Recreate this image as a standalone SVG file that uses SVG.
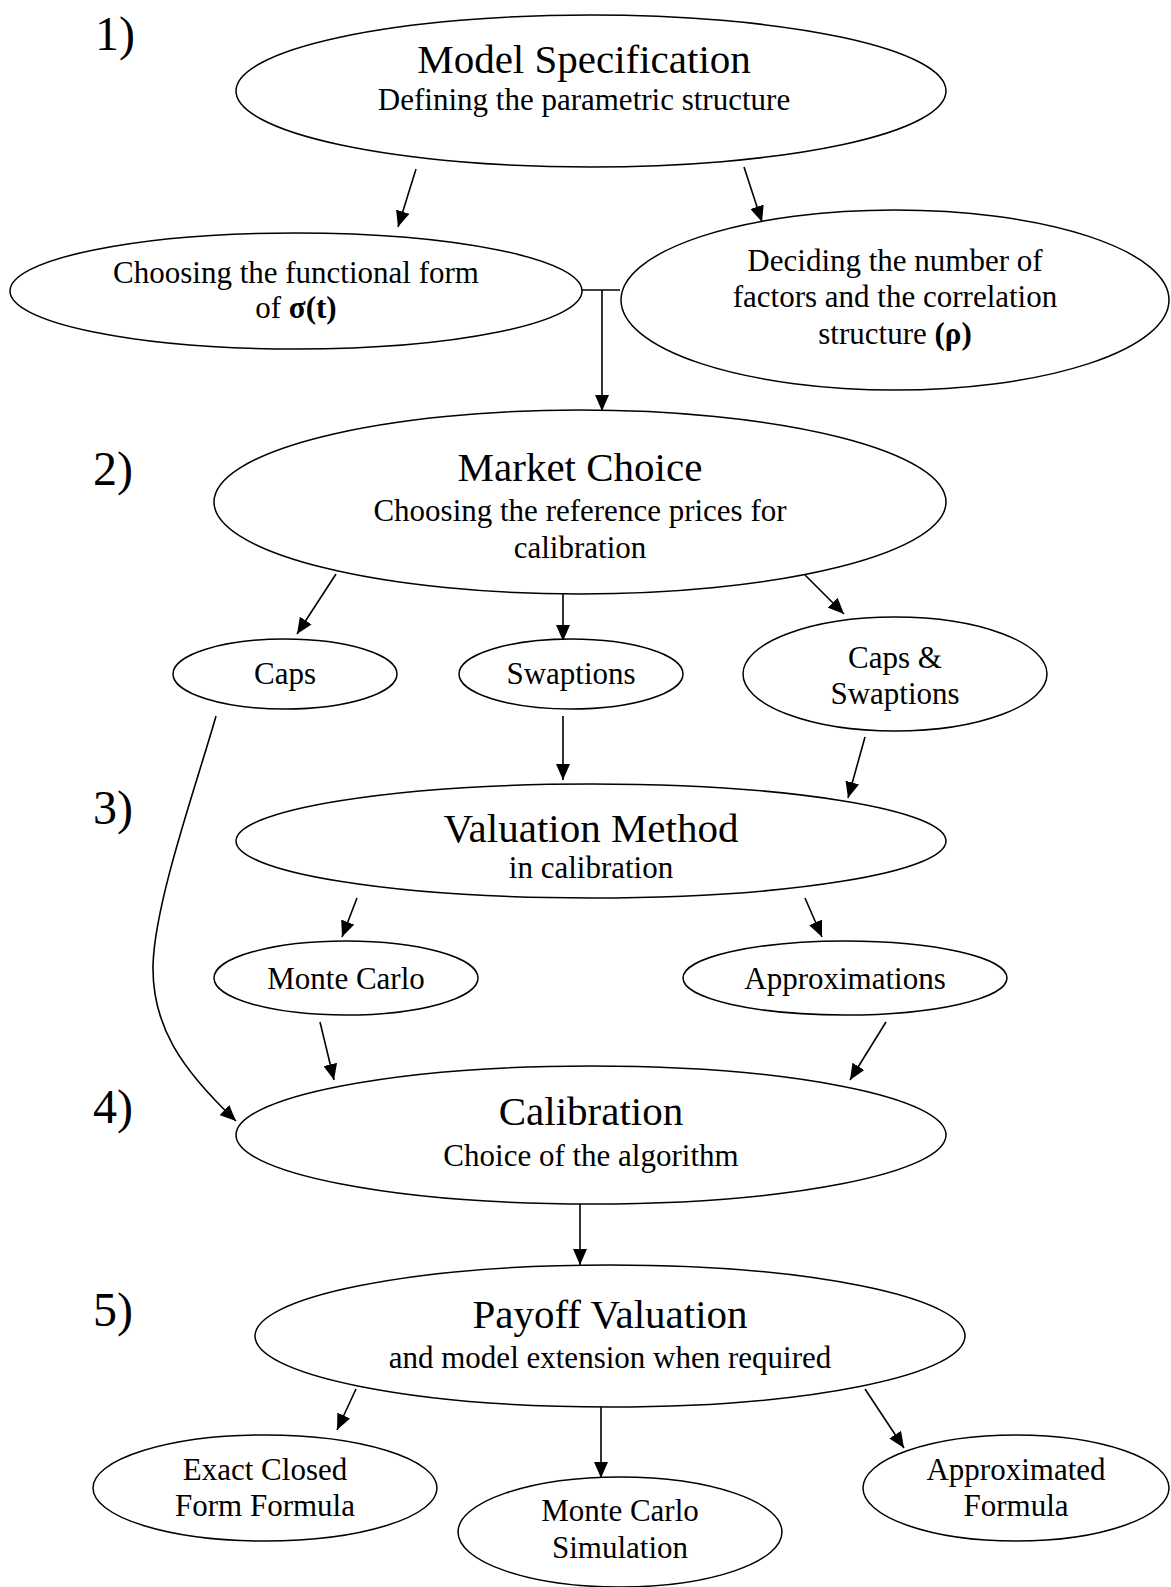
<svg xmlns="http://www.w3.org/2000/svg" width="1171" height="1587" viewBox="0 0 1171 1587">
<style>
  .n { fill: #fff; stroke: #000; stroke-width: 1.5; }
  text { font-family: "Liberation Serif", "Times New Roman", serif; fill: #000; text-anchor: middle; }
  .t { font-size: 41px; }
  .s { font-size: 31px; }
  .lab { font-size: 48px; text-anchor: start; }
  .e { fill: none; stroke: #000; stroke-width: 1.6; marker-end: url(#ah); }
  .l { fill: none; stroke: #000; stroke-width: 1.6; }
  .b { font-weight: bold; }
</style>
<defs>
  <marker id="ah" markerUnits="userSpaceOnUse" viewBox="0 0 16 14" refX="16" refY="7" markerWidth="16" markerHeight="14" orient="auto">
    <path d="M0,0 L16,7 L0,14 z" fill="#000"/>
  </marker>
</defs>
<rect width="1171" height="1587" fill="#fff"/>

<g id="step-labels">
  <text class="lab" x="95" y="50">1)</text>
  <text class="lab" x="93" y="485">2)</text>
  <text class="lab" x="93" y="824">3)</text>
  <text class="lab" x="93" y="1123">4)</text>
  <text class="lab" x="93" y="1326">5)</text>
</g>

<g id="connectors">
  <path class="e" d="M416,169 L398,227"/>
  <path class="e" d="M744,167 L762,222"/>
  <path class="l" d="M582,290 H620"/>
  <path class="e" d="M602,290 V411"/>
  <path class="e" d="M336,574 L297,634"/>
  <path class="e" d="M563,594 V641"/>
  <path class="e" d="M805,575 L844,614"/>
  <path class="e" d="M563,716 V780"/>
  <path class="e" d="M865,737 L848,798"/>
  <path class="e" d="M216,716 C198,780 155,900 153,965 C152,1025 180,1068 236,1121"/>
  <path class="e" d="M357,898 L342,937"/>
  <path class="e" d="M805,898 L822,937"/>
  <path class="e" d="M320,1022 L334,1080"/>
  <path class="e" d="M886,1022 L850,1080"/>
  <path class="e" d="M580,1204 V1265"/>
  <path class="e" d="M356,1389 L337,1430"/>
  <path class="e" d="M601,1407 V1478"/>
  <path class="e" d="M865,1389 L904,1448"/>
</g>

<g id="model-specification">
  <ellipse class="n" cx="591" cy="91" rx="355" ry="76"/>
  <text class="t" x="584" y="73">Model Specification</text>
  <text class="s" x="584" y="110">Defining the parametric structure</text>
</g>

<g id="functional-form">
  <ellipse class="n" cx="296" cy="291" rx="286" ry="58"/>
  <text class="s" x="296" y="283">Choosing the functional form</text>
  <text class="s" x="296" y="318">of <tspan class="b">σ(t)</tspan></text>
</g>

<g id="factors-correlation">
  <ellipse class="n" cx="895" cy="300" rx="274" ry="90"/>
  <text class="s" x="895" y="271">Deciding the number of</text>
  <text class="s" x="895" y="307">factors and the correlation</text>
  <text class="s" x="895" y="344">structure <tspan class="b">(ρ)</tspan></text>
</g>

<g id="market-choice">
  <ellipse class="n" cx="580" cy="502" rx="366" ry="92"/>
  <text class="t" x="580" y="481">Market Choice</text>
  <text class="s" x="580" y="521">Choosing the reference prices for</text>
  <text class="s" x="580" y="558">calibration</text>
</g>

<g id="caps">
  <ellipse class="n" cx="285" cy="674" rx="112" ry="35"/>
  <text class="s" x="285" y="684">Caps</text>
</g>

<g id="swaptions">
  <ellipse class="n" cx="571" cy="674" rx="112" ry="35"/>
  <text class="s" x="571" y="684">Swaptions</text>
</g>

<g id="caps-swaptions">
  <ellipse class="n" cx="895" cy="674" rx="152" ry="57"/>
  <text class="s" x="895" y="668">Caps &amp;</text>
  <text class="s" x="895" y="704">Swaptions</text>
</g>

<g id="valuation-method">
  <ellipse class="n" cx="591" cy="841" rx="355" ry="57"/>
  <text class="t" x="591" y="842">Valuation Method</text>
  <text class="s" x="591" y="878">in calibration</text>
</g>

<g id="monte-carlo">
  <ellipse class="n" cx="346" cy="978" rx="132" ry="37"/>
  <text class="s" x="346" y="989">Monte Carlo</text>
</g>

<g id="approximations">
  <ellipse class="n" cx="845" cy="978" rx="162" ry="37"/>
  <text class="s" x="845" y="989">Approximations</text>
</g>

<g id="calibration">
  <ellipse class="n" cx="591" cy="1135" rx="355" ry="69"/>
  <text class="t" x="591" y="1125">Calibration</text>
  <text class="s" x="591" y="1166">Choice of the algorithm</text>
</g>

<g id="payoff-valuation">
  <ellipse class="n" cx="610" cy="1336" rx="355" ry="71"/>
  <text class="t" x="610" y="1328">Payoff Valuation</text>
  <text class="s" x="610" y="1368">and model extension when required</text>
</g>

<g id="exact-closed-form">
  <ellipse class="n" cx="265" cy="1488" rx="172" ry="53"/>
  <text class="s" x="265" y="1480">Exact Closed</text>
  <text class="s" x="265" y="1516">Form Formula</text>
</g>

<g id="monte-carlo-simulation">
  <ellipse class="n" cx="620" cy="1532" rx="162" ry="55"/>
  <text class="s" x="620" y="1521">Monte Carlo</text>
  <text class="s" x="620" y="1558">Simulation</text>
</g>

<g id="approximated-formula">
  <ellipse class="n" cx="1016" cy="1488" rx="153" ry="53"/>
  <text class="s" x="1016" y="1480">Approximated</text>
  <text class="s" x="1016" y="1516">Formula</text>
</g>
</svg>
